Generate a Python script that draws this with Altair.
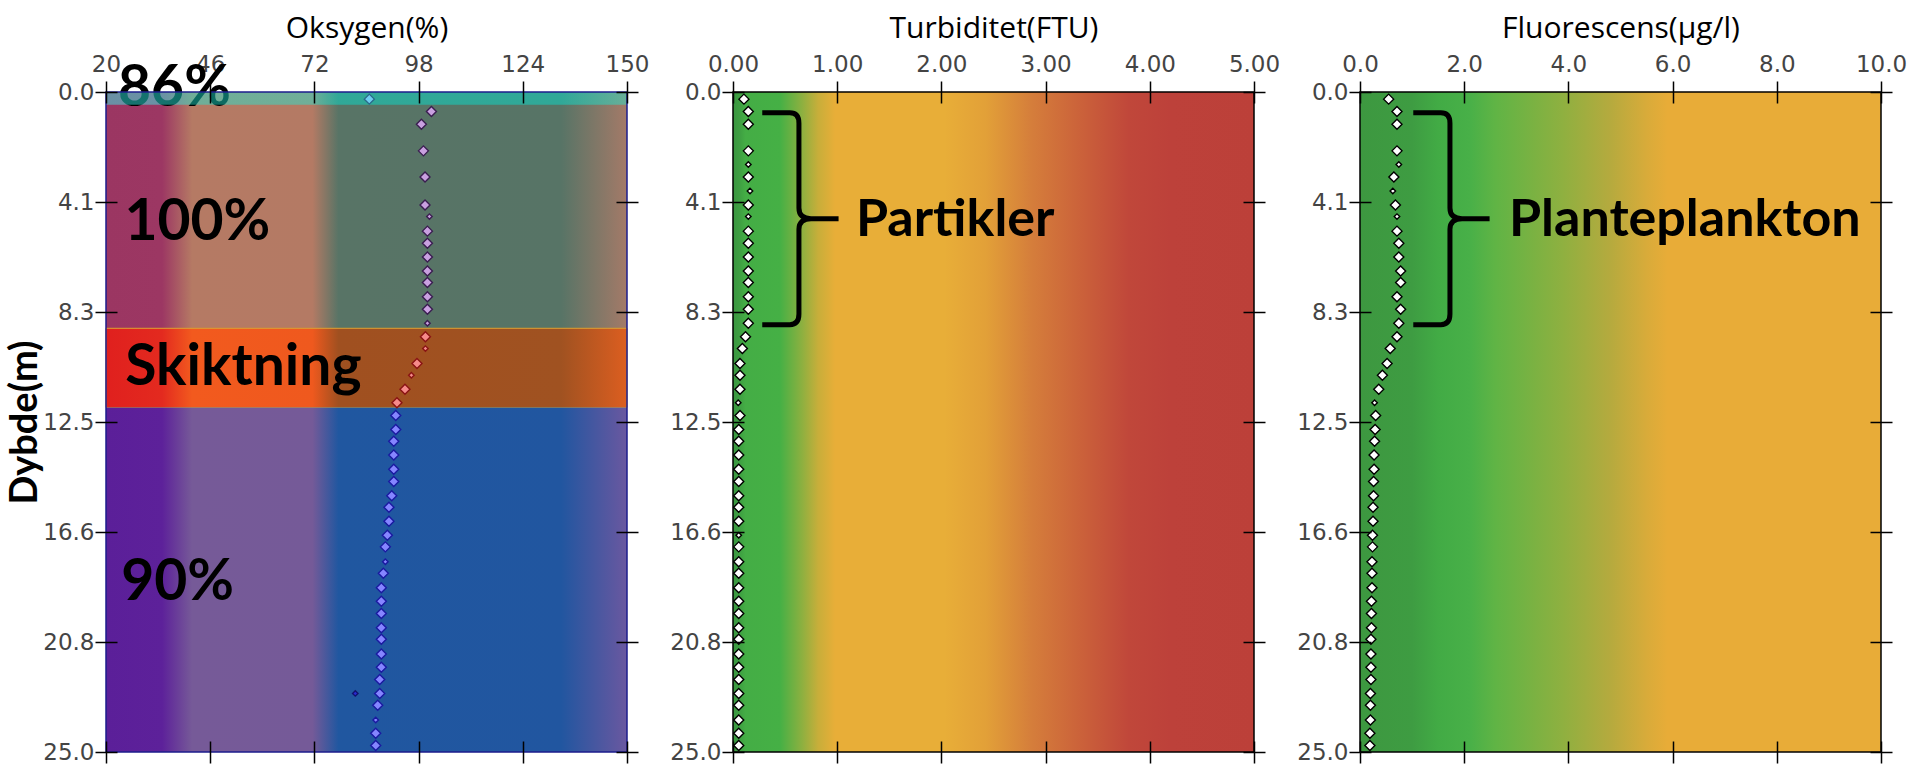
import json

import altair as alt
import pandas as pd

# ---------------------------------------------------------------------------
# Profile data (depth in metres)
# ---------------------------------------------------------------------------
DEPTH = [0.27, 0.74, 1.22, 2.23, 2.75, 3.22, 3.75, 4.28, 4.72, 5.27, 5.73, 6.25,
         6.78, 7.22, 7.76, 8.23, 8.76, 9.27, 9.72, 10.28, 10.73, 11.26, 11.77,
         12.25, 12.78, 13.23, 13.75, 14.29, 14.75, 15.29, 15.73, 16.26, 16.79,
         17.23, 17.79, 18.23, 18.78, 19.29, 19.75, 20.29, 20.73, 21.29, 21.79,
         22.25, 22.78, 23.23, 23.79, 24.29, 24.75]

OXY_DEPTH = [0.27, 0.74, 1.22, 2.23, 3.22, 4.28, 4.72, 5.27, 5.73, 6.25, 6.78,
             7.22, 7.76, 8.23, 8.76, 9.27, 9.72, 10.28, 10.73, 11.26, 11.77,
             12.25, 12.78, 13.23, 13.75, 14.29, 14.75, 15.29, 15.73, 16.26, 16.79,
             17.23, 17.79, 18.23, 18.78, 19.29, 19.75, 20.29, 20.73, 21.29, 21.79,
             22.25, 22.78, 23.23, 23.79, 24.29, 24.75]
OXYGEN = [85.7, 101.2, 98.7, 99.2, 99.6, 99.6, 100.7, 100.2, 100.2, 100.2, 100.2,
          100.2, 100.2, 100.2, 100.2, 99.7, 99.7, 97.6, 96.2, 94.6, 92.6,
          92.3, 92.3, 91.8, 91.8, 91.8, 91.8, 91.3, 90.6, 90.6, 90.2,
          89.7, 89.7, 89.2, 88.7, 88.7, 88.7, 88.7, 88.7, 88.7, 88.7,
          88.3, 88.3, 87.8, 87.3, 87.3, 87.3]
OXY_EXTRA_DEPTH = [22.78]
OXY_EXTRA = [82.2]

TURBIDITY = [0.105, 0.147, 0.147, 0.147, 0.147, 0.147, 0.163, 0.147, 0.147, 0.147,
             0.147, 0.147, 0.147, 0.147, 0.147, 0.147, 0.147, 0.12, 0.09, 0.067,
             0.067, 0.067, 0.05, 0.067, 0.055, 0.055, 0.055, 0.055, 0.055, 0.055,
             0.055, 0.055, 0.055, 0.055, 0.055, 0.055, 0.055, 0.055, 0.055, 0.055,
             0.055, 0.055, 0.055, 0.055, 0.055, 0.055, 0.055, 0.055, 0.055]

FLUORESCENCE = [0.55, 0.71, 0.71, 0.71, 0.745, 0.65, 0.63, 0.68, 0.71, 0.71, 0.745,
                0.745, 0.78, 0.78, 0.71, 0.78, 0.745, 0.71, 0.58, 0.52, 0.43, 0.36,
                0.28, 0.30, 0.29, 0.28, 0.27, 0.27, 0.26, 0.26, 0.25, 0.25, 0.24,
                0.24, 0.23, 0.23, 0.23, 0.22, 0.22, 0.22, 0.21, 0.21, 0.21, 0.21,
                0.20, 0.20, 0.20, 0.19, 0.19]

# samples drawn with the reduced marker
SMALL_OXY = [4.72, 8.76, 9.72, 10.73, 17.79, 23.79]
SMALL_TURB = [2.75, 3.75, 4.72, 11.77, 16.79]
SMALL_FLUOR = [2.75, 3.75, 4.72, 11.77]

# water layers in the oxygen panel
LAYER_NAMES = ["overflate", "øvre", "skiktning", "dyp"]
LAYER_BOUNDS = [0.0, 0.48, 8.95, 11.95, 25.0]
LAYER_TEXT = ["86%", "100%", "Skiktning", "90%"]
LAYER_TEXT_X = [23.0, 24.6, 24.8, 23.8]
LAYER_TEXT_DEPTH = [-0.11, 4.96, 10.44, 18.6]

# axes
DEPTH_MAX = 25.0
DEPTH_TICK_LABELS = ["0.0", "4.1", "8.3", "12.5", "16.6", "20.8", "25.0"]
OXY_TICKS = [20, 46, 72, 98, 124, 150]
TURB_TICKS = [0, 1, 2, 3, 4, 5]
FLUOR_TICKS = [0, 2, 4, 6, 8, 10]

# bracket annotations: (x centre, depth centre, label x, label depth, label)
TURB_NOTE = (0.647, 4.8, 1.18, 4.85, "Partikler")
FLUOR_NOTE = (1.755, 4.8, 2.86, 4.85, "Planteplankton")

# ---------------------------------------------------------------------------
W, H = 521, 660
TICK_LEN = 22
BOLD_FONT = "Lato"
LABEL_FONT = "DejaVu Sans"
TITLE_FONT = "Open Sans"

depth_ticks = [DEPTH_MAX * i / 6 for i in range(7)]
depth_label_expr = f"{json.dumps(DEPTH_TICK_LABELS)}[round(datum.value * 6 / {DEPTH_MAX})]"

y_scale = alt.Scale(domain=[0, DEPTH_MAX], reverse=True, nice=False, zero=False)

# "}"-shaped bracket, unit coordinates
BRACE = ("M -0.36 -1 L -0.1 -1 Q -0.014 -1 -0.014 -0.9 L -0.014 -0.1 "
         "Q -0.014 0 0.1 0 L 0.36 0 M 0.1 0 Q -0.014 0 -0.014 0.1 "
         "L -0.014 0.9 Q -0.014 1 -0.1 1 L -0.36 1")


def common_axis(**kw):
    base = dict(offset=-TICK_LEN / 2, tickSize=TICK_LEN, tickWidth=1.5,
                tickColor="black", domain=False, grid=False, zindex=2,
                labelFont=LABEL_FONT, labelFontSize=23, labelColor="#444444",
                labelFlush=False, labelOverlap=False)
    base.update(kw)
    return alt.Axis(**base)


def top_label_axis(values, fmt, title):
    # labels and title sit behind the marks so annotations can overlap them
    return common_axis(orient="top", values=values, format=fmt, title=title,
                       ticks=False, labelPadding=TICK_LEN + 5, zindex=0,
                       titleFont=TITLE_FONT, titleFontSize=30,
                       titleFontWeight="normal", titleColor="black",
                       titleBaseline="alphabetic", titleY=-66)


def top_tick_axis(values):
    return common_axis(orient="top", values=values, labels=False, title=None)


def bottom_axis(values):
    return common_axis(orient="bottom", values=values, labels=False, title=None)


def left_axis(title=None):
    kw = dict(orient="left", values=depth_ticks, labelExpr=depth_label_expr,
              labelPadding=1)
    if title:
        kw.update(title=title, titleFont=BOLD_FONT, titleFontSize=38,
                  titleFontWeight="bold", titleColor="black", titleAngle=-90,
                  titleAlign="center", titleBaseline="middle",
                  titleX=-91.5, titleY=H / 2)
    else:
        kw.update(title=None)
    return common_axis(**kw)


def right_axis():
    return common_axis(orient="right", values=depth_ticks, labels=False, title=None)


def gradient(stops, lo, hi):
    return alt.LinearGradient(
        gradient="linear", x1=0, x2=1, y1=0, y2=0,
        stops=[alt.GradientStop(offset=(v - lo) / (hi - lo), color=c) for v, c in stops])


def band_layer(lo, hi, top, bottom, fill, first=False, axis_vals=None, fmt=None,
               title=None, ytitle=None, **mark):
    df = pd.DataFrame({"x0": [lo], "x1": [hi], "top": [top], "bottom": [bottom]})
    xs = alt.Scale(domain=[lo, hi], nice=False, zero=False)
    return alt.Chart(df).mark_rect(color=fill, **mark).encode(
        x=alt.X("x0:Q", scale=xs,
                axis=top_label_axis(axis_vals, fmt, title) if first else None),
        x2="x1:Q",
        y=alt.Y("top:Q", scale=y_scale, axis=left_axis(ytitle) if first else None),
        y2="bottom:Q",
    )


def frame_layer(lo, hi, ticks, color="black"):
    df = pd.DataFrame({"x0": [lo], "x1": [hi], "top": [0.0], "bottom": [DEPTH_MAX]})
    xs = alt.Scale(domain=[lo, hi], nice=False, zero=False)
    return alt.Chart(df).mark_rect(fillOpacity=0, stroke=color, strokeWidth=1.5).encode(
        x=alt.X("x0:Q", scale=xs, axis=bottom_axis(ticks)),
        x2="x1:Q",
        y=alt.Y("top:Q", scale=y_scale, axis=right_axis()),
        y2="bottom:Q",
    )


def points_layer(df, field, lo, hi, fill, stroke, ticks=None,
                 size_small=30, size_big=100):
    xs = alt.Scale(domain=[lo, hi], nice=False, zero=False)
    enc = dict(
        x=alt.X(f"{field}:Q", scale=xs,
                axis=top_tick_axis(ticks) if ticks is not None else None),
        y=alt.Y("depth:Q", scale=y_scale, axis=None),
        size=alt.Size("marker:N", scale=alt.Scale(domain=["full", "small"],
                                                   range=[size_big, size_small]),
                      legend=None),
    )
    if isinstance(fill, alt.Fill):
        enc.update(fill=fill, stroke=stroke)
        mark = dict()
    else:
        mark = dict(fill=fill, stroke=stroke)
    return alt.Chart(df).mark_point(shape="diamond", filled=True, opacity=1,
                                    strokeWidth=1.4, **mark).encode(**enc)


def text_layer(df, field_x, lo, hi, size=52):
    xs = alt.Scale(domain=[lo, hi], nice=False, zero=False)
    return alt.Chart(df).mark_text(font=BOLD_FONT, fontWeight="bold", fontSize=size,
                                   align="left", baseline="middle", color="black").encode(
        x=alt.X(f"{field_x}:Q", scale=xs, axis=None),
        y=alt.Y("depth:Q", scale=y_scale, axis=None),
        text="label:N",
    )


def brace_layer(note, lo, hi):
    xs = alt.Scale(domain=[lo, hi], nice=False, zero=False)
    df = pd.DataFrame({"x": [note[0]], "depth": [note[1]]})
    return alt.Chart(df).mark_point(shape=BRACE, size=212 ** 2, filled=False,
                                    stroke="black", strokeWidth=5, strokeCap="butt",
                                    opacity=1).encode(
        x=alt.X("x:Q", scale=xs, axis=None),
        y=alt.Y("depth:Q", scale=y_scale, axis=None),
    )


def marker_kind(depths, small):
    return ["small" if d in small else "full" for d in depths]


# ---------------------------------------------------------------------------
# Panel 1: oxygen saturation with water layers
# ---------------------------------------------------------------------------
OX_LO, OX_HI = OXY_TICKS[0], OXY_TICKS[-1]
oxy = pd.DataFrame({"depth": OXY_DEPTH, "value": OXYGEN,
                    "marker": marker_kind(OXY_DEPTH, SMALL_OXY)})
oxy["layer"] = pd.cut(oxy["depth"], LAYER_BOUNDS, labels=LAYER_NAMES).astype(str)
oxy_extra = pd.DataFrame({"depth": OXY_EXTRA_DEPTH, "value": OXY_EXTRA,
                          "marker": ["small"] * len(OXY_EXTRA)})

upper_stops = [(20, "#9b3662"), (34, "#9c3763"), (41.5, "#b57a64"), (71.5, "#b47a64"),
               (78, "#587466"), (133.5, "#577466"), (150, "#a47a68")]
strat_stops = [(20, "#e0201e"), (34, "#e32a1f"), (41.5, "#f25a1e"), (71.5, "#ef591e"),
               (78, "#a05020"), (133.5, "#a05221"), (150, "#dc5e20")]
deep_stops = [(20, "#5b1f99"), (34, "#5d219a"), (41.5, "#765a98"), (71.5, "#755a98"),
              (78, "#2057a0"), (133.5, "#2156a0"), (150, "#6a58a0")]
# translucent teal wash over the surface layer
surface_stops = [(20, "#2efff6"), (34, "#2efff6"), (41.5, "#1ceed8"), (71.5, "#1ceed8"),
                 (78, "#00e8d5"), (133.5, "#00e8d5"), (150, "#1feed3")]

layer_text = pd.DataFrame({"label": LAYER_TEXT, "value": LAYER_TEXT_X,
                           "depth": LAYER_TEXT_DEPTH})

oxy_panel = alt.layer(
    band_layer(OX_LO, OX_HI, LAYER_BOUNDS[0], LAYER_BOUNDS[2],
               gradient(upper_stops, OX_LO, OX_HI), first=True,
               axis_vals=OXY_TICKS, fmt="d", title="Oksygen(%)", ytitle="Dybde(m)"),
    band_layer(OX_LO, OX_HI, LAYER_BOUNDS[2], LAYER_BOUNDS[3],
               gradient(strat_stops, OX_LO, OX_HI), stroke="#d99a2a", strokeWidth=1),
    band_layer(OX_LO, OX_HI, LAYER_BOUNDS[3], LAYER_BOUNDS[4],
               gradient(deep_stops, OX_LO, OX_HI)),
    text_layer(layer_text, "value", OX_LO, OX_HI, size=57),
    band_layer(OX_LO, OX_HI, LAYER_BOUNDS[0], LAYER_BOUNDS[1],
               gradient(surface_stops, OX_LO, OX_HI), opacity=0.45),
    frame_layer(OX_LO, OX_HI, OXY_TICKS, color="#1c1c8c"),
    points_layer(oxy, "value", OX_LO, OX_HI,
                 alt.Fill("layer:N", scale=alt.Scale(
                     domain=LAYER_NAMES,
                     range=["#6fcdf0", "#c9a0e0", "#f58a8a", "#8585ff"]), legend=None),
                 alt.Stroke("layer:N", scale=alt.Scale(
                     domain=LAYER_NAMES,
                     range=["#2a6a8a", "#3a1e50", "#8a1414", "#1a1aa0"]), legend=None),
                 ticks=OXY_TICKS),
    points_layer(oxy_extra, "value", OX_LO, OX_HI, "#2a2ad0", "#12126e"),
).resolve_axis(x="independent", y="independent").properties(width=W, height=H)

# ---------------------------------------------------------------------------
# Panel 2: turbidity
# ---------------------------------------------------------------------------
TU_LO, TU_HI = TURB_TICKS[0], TURB_TICKS[-1]
turb = pd.DataFrame({"depth": DEPTH, "value": TURBIDITY,
                     "marker": marker_kind(DEPTH, SMALL_TURB)})
turb_stops = [(0, "#3a9640"), (0.06, "#3e9e42"), (0.12, "#44ad45"), (0.45, "#45b045"),
              (0.66, "#8cb040"), (0.82, "#c8ae3a"), (0.98, "#e8ae38"), (2.03, "#e8ae38"),
              (2.43, "#e2a038"), (2.86, "#d57e3b"), (3.33, "#cb623a"), (3.8, "#c0473a"),
              (4.2, "#bd413a"), (5.0, "#bc4039")]
turb_note = pd.DataFrame({"label": [TURB_NOTE[4]], "value": [TURB_NOTE[2]],
                          "depth": [TURB_NOTE[3]]})

turb_panel = alt.layer(
    band_layer(TU_LO, TU_HI, 0.0, DEPTH_MAX, gradient(turb_stops, TU_LO, TU_HI),
               first=True, axis_vals=TURB_TICKS, fmt=".2f", title="Turbiditet(FTU)"),
    frame_layer(TU_LO, TU_HI, TURB_TICKS),
    points_layer(turb, "value", TU_LO, TU_HI, "white", "black", ticks=TURB_TICKS),
    brace_layer(TURB_NOTE, TU_LO, TU_HI),
    text_layer(turb_note, "value", TU_LO, TU_HI),
).resolve_axis(x="independent", y="independent").properties(width=W, height=H)

# ---------------------------------------------------------------------------
# Panel 3: fluorescence (chlorophyll)
# ---------------------------------------------------------------------------
FL_LO, FL_HI = FLUOR_TICKS[0], FLUOR_TICKS[-1]
fluor = pd.DataFrame({"depth": DEPTH, "value": FLUORESCENCE,
                      "marker": marker_kind(DEPTH, SMALL_FLUOR)})
fluor_stops = [(0, "#3d9840"), (1.0, "#3e9c42"), (1.5, "#42ab45"), (2.1, "#48b048"),
               (2.6, "#60b445"), (3.9, "#8fb040"), (4.8, "#b5aa3e"), (5.5, "#d8ab3a"),
               (5.9, "#e8ac38"), (10.0, "#e8ac38")]
fluor_note = pd.DataFrame({"label": [FLUOR_NOTE[4]], "value": [FLUOR_NOTE[2]],
                           "depth": [FLUOR_NOTE[3]]})

fluor_panel = alt.layer(
    band_layer(FL_LO, FL_HI, 0.0, DEPTH_MAX, gradient(fluor_stops, FL_LO, FL_HI),
               first=True, axis_vals=FLUOR_TICKS, fmt=".1f", title="Fluorescens(µg/l)"),
    frame_layer(FL_LO, FL_HI, FLUOR_TICKS),
    points_layer(fluor, "value", FL_LO, FL_HI, "white", "black", ticks=FLUOR_TICKS),
    brace_layer(FLUOR_NOTE, FL_LO, FL_HI),
    text_layer(fluor_note, "value", FL_LO, FL_HI),
).resolve_axis(x="independent", y="independent").properties(width=W, height=H)

chart = alt.hconcat(oxy_panel, turb_panel, fluor_panel, spacing=106, bounds="flush") \
    .properties(padding={"left": 6, "top": 13, "right": 5, "bottom": 3},
                background="white") \
    .configure_view(stroke=None)

chart.save("out.html", embed_options={"renderer": "svg", "actions": False})
